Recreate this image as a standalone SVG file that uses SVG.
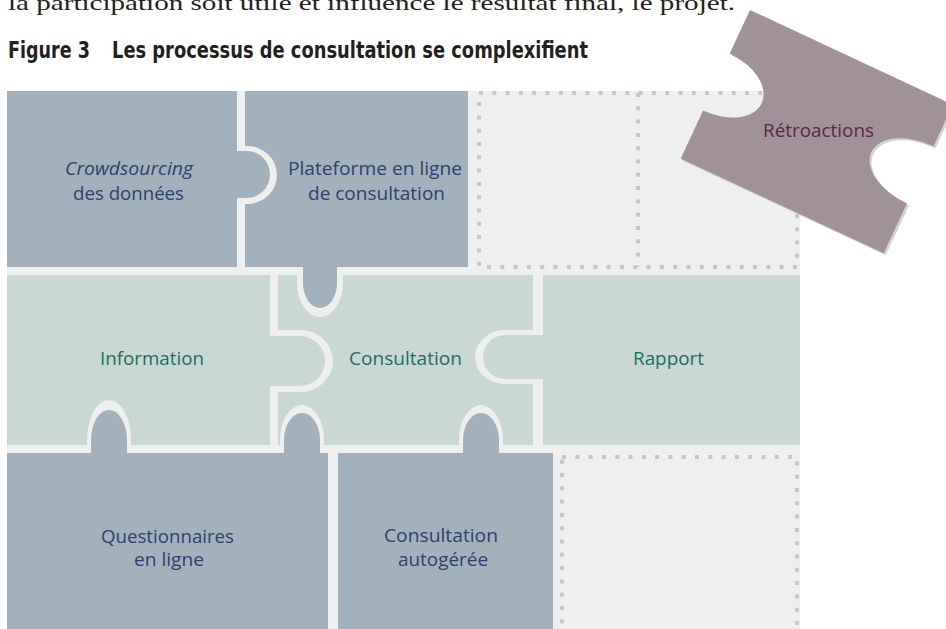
<svg xmlns="http://www.w3.org/2000/svg" width="946" height="629" viewBox="0 0 946 629">
<style>
.bg{fill:#eef0ef}
.blue{fill:#a2b1bc}
.green{fill:#c9d8d2}
.sock{fill:#eef0ef}
.dots{fill:none;stroke:#c4c7c7;stroke-width:4;stroke-dasharray:4 9.3}
.title{font-family:"DejaVu Sans Condensed","DejaVu Sans",sans-serif;font-weight:bold;font-size:23px;fill:#231f20}
.lb{font-family:"Open Sans","Noto Sans",sans-serif;font-size:18px;fill:#2c4270;text-anchor:middle}
.lg{font-family:"Open Sans","Noto Sans",sans-serif;font-size:18px;fill:#1b6f63;text-anchor:middle}
.lr{font-family:"Open Sans","Noto Sans",sans-serif;font-size:18px;fill:#5c2647;text-anchor:middle}
</style>
<text x="8" y="10" font-family="Liberation Serif,serif" font-size="22" fill="#231f20" textLength="727" lengthAdjust="spacingAndGlyphs">la participation soit utile et influence le résultat final, le projet.</text>
<text class="title" x="8" y="58" textLength="82" lengthAdjust="spacingAndGlyphs">Figure 3</text>
<text class="title" x="112" y="58" textLength="476" lengthAdjust="spacingAndGlyphs">Les processus de consultation se complexifient</text>
<g id="background">
<rect class="bg" x="7" y="91" width="793" height="538"/>
<rect class="dots" x="479" y="93" width="318" height="174"/>
<line class="dots" x1="638" y1="93" x2="638" y2="267"/>
<rect class="dots" x="562" y="457" width="235" height="174"/>
</g>
<g id="connectors"></g>
<g id="consultation">
<rect class="green" x="278" y="275" width="255" height="170"/>
<text class="lg" x="405.5" y="365" textLength="113" lengthAdjust="spacingAndGlyphs">Consultation</text>
</g>
<g id="information">
<rect class="green" x="7" y="275" width="263" height="170"/>
<path class="sock" d="M278,330 L300,330 A33,31 0 0 1 300,392 L278,392 Z"/>
<path class="green" d="M269,336 L300,336 A25,25 0 0 1 300,386 L269,386 Z"/>
<text class="lg" x="152" y="365" textLength="104" lengthAdjust="spacingAndGlyphs">Information</text>
</g>
<g id="plateforme">
<rect class="blue" x="245" y="91" width="223" height="176"/>
<path class="sock" d="M297,275 L297,283 A23,34 0 0 0 343,283 L343,275 Z"/>
<path class="blue" d="M303,266 L303,283 A17,25 0 0 0 337,283 L337,266 Z"/>
<text class="lb" x="375" y="175" textLength="174" lengthAdjust="spacingAndGlyphs">Plateforme en ligne</text>
<text class="lb" x="376.5" y="200" textLength="137" lengthAdjust="spacingAndGlyphs">de consultation</text>
</g>
<g id="crowdsourcing">
<rect class="blue" x="7" y="91" width="230" height="176"/>
<path class="sock" d="M245,146 L247,146 A30,29 0 0 1 247,204 L245,204 Z"/>
<path class="blue" d="M236,151 L247,151 A23,23.5 0 0 1 247,198 L236,198 Z"/>
<text class="lb" x="129" y="175" font-style="italic" textLength="128" lengthAdjust="spacingAndGlyphs">Crowdsourcing</text>
<text class="lb" x="128.5" y="200" textLength="111" lengthAdjust="spacingAndGlyphs">des données</text>
</g>
<g id="rapport">
<rect class="green" x="543" y="275" width="257" height="170"/>
<path class="sock" d="M533,330 L505,330 A30,27 0 0 0 505,384 L533,384 Z"/>
<path class="green" d="M544,335 L505,335 A22,22 0 0 0 505,379 L544,379 Z"/>
<text class="lg" x="668.5" y="365" textLength="71" lengthAdjust="spacingAndGlyphs">Rapport</text>
</g>
<g id="questionnaires">
<rect class="blue" x="7" y="453" width="321" height="176"/>
<path class="sock" d="M87,446 L87,440 A22,40 0 0 1 131,440 L131,446 Z"/>
<path class="blue" d="M91,454 L91,440 A18,30 0 0 1 127,440 L127,454 Z"/>
<path class="sock" d="M280,446 L280,440 A22,35 0 0 1 324,440 L324,446 Z"/>
<path class="blue" d="M284,454 L284,440 A18,27 0 0 1 320,440 L320,454 Z"/>
<text class="lb" x="167.5" y="543" textLength="133" lengthAdjust="spacingAndGlyphs">Questionnaires</text>
<text class="lb" x="169" y="566" textLength="70" lengthAdjust="spacingAndGlyphs">en ligne</text>
</g>
<g id="autogeree">
<rect class="blue" x="338" y="453" width="215" height="176"/>
<path class="sock" d="M459,446 L459,440 A22,35 0 0 1 503,440 L503,446 Z"/>
<path class="blue" d="M463,454 L463,440 A18,27 0 0 1 499,440 L499,454 Z"/>
<text class="lb" x="441" y="542" textLength="114" lengthAdjust="spacingAndGlyphs">Consultation</text>
<text class="lb" x="443" y="566" textLength="90" lengthAdjust="spacingAndGlyphs">autogérée</text>
</g>
<g id="retroactions">
<path fill="#d3d3d3" transform="translate(752,12) rotate(25)" d="M0,0 L224,0 L224,46 A54,31.5 0 0 0 224,109 L224,164 L0,164 L0,111 A50,31.5 0 0 0 0,48 Z"/>
<path fill="#a19198" transform="translate(750,10) rotate(25)" d="M0,0 L224,0 L224,46 A54,31.5 0 0 0 224,109 L224,164 L0,164 L0,111 A50,31.5 0 0 0 0,48 Z"/>
<text class="lr" x="818.5" y="137" textLength="111" lengthAdjust="spacingAndGlyphs">Rétroactions</text>
</g>
</svg>
